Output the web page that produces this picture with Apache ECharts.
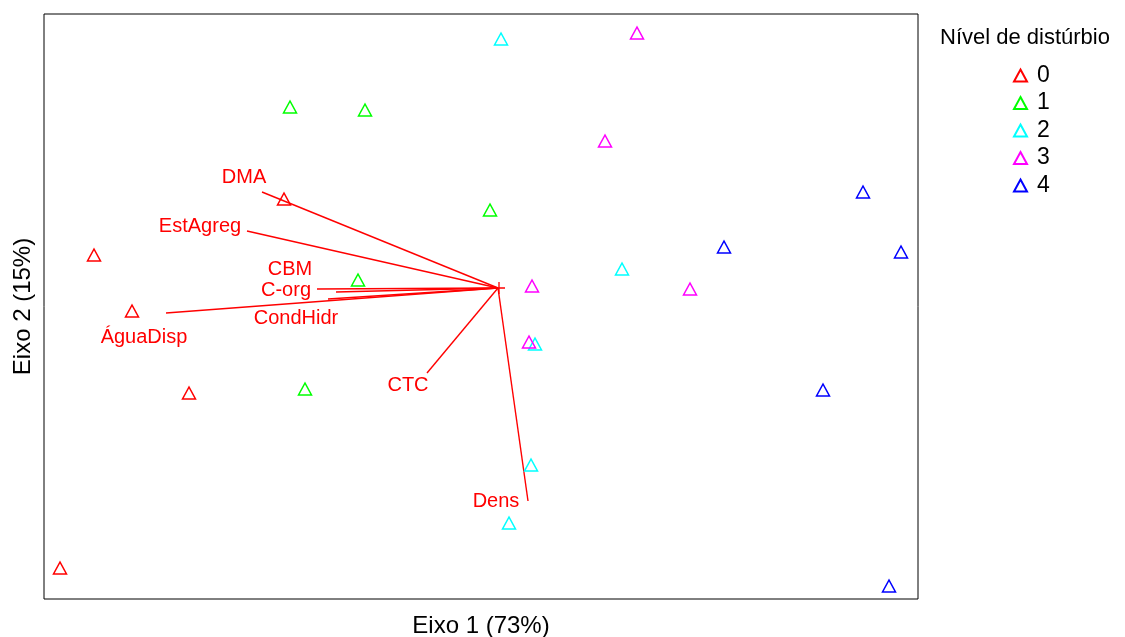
<!DOCTYPE html>
<html>
<head>
<meta charset="utf-8">
<script src="https://cdn.jsdelivr.net/npm/echarts@6/dist/echarts.min.js"></script>
<style>html,body{margin:0;padding:0;background:#fff;}#c{width:1125px;height:637px;}</style>
</head>
<body>
<div id="c"></div>
<script>
// Groups (disturbance level) and site scores [Eixo 1, Eixo 2]
const categories = ['0', '1', '2', '3', '4'];
const scores0 = [[-4.04, 0.33], [-3.66, -0.23], [-3.09, -1.05], [-4.38, -2.80], [-2.14, 0.89]];
const scores1 = [[-2.08, 1.81], [-1.33, 1.78], [-0.08, 0.78], [-1.40, 0.08], [-1.93, -1.01]];
const scores2 = [[0.03, 2.49], [1.24, 0.19], [0.37, -0.56], [0.33, -1.77], [0.11, -2.35]];
const scores3 = [[1.39, 2.55], [1.07, 1.47], [0.34, 0.02], [1.92, -0.01], [0.31, -0.54]];
const scores4 = [[3.65, 0.96], [2.26, 0.41], [4.03, 0.36], [3.25, -1.02], [3.91, -2.98]];
const groupScores = [scores0, scores1, scores2, scores3, scores4];

// Environmental variable vectors (arrow tips) and label anchors
const variables = ['DMA', 'EstAgreg', 'CBM', 'C-org', 'CondHidr', 'ÁguaDisp', 'CTC', 'Dens'];
const arrowX = [-2.36, -2.51, -1.62, -1.81, -1.70, -3.32, -0.71, 0.30];
const arrowY = [0.96, 0.57, -0.04, -0.01, -0.11, -0.25, -0.85, -2.13];
const labelX = [-2.54, -2.98, -2.08, -2.12, -2.02, -3.54, -0.90, -0.02];
const labelY = [1.11, 0.62, 0.19, -0.02, -0.30, -0.49, -0.97, -2.13];

const palette = ['#FF0000', '#00FF00', '#00FFFF', '#FF00FF', '#0000FF'];
const FONT = 'Liberation Sans, Arial, sans-serif';

const chart = echarts.init(document.getElementById('c'), null, {renderer: 'canvas'});

const series = categories.map((c, i) => ({
  name: c,
  type: 'scatter',
  symbol: 'triangle',
  symbolSize: [13, 12],
  data: groupScores[i],
  itemStyle: {color: 'rgba(0,0,0,0)', borderColor: palette[i], borderWidth: 1.5, opacity: 1},
  z: 5
}));

series.push({
  name: 'arrows',
  type: 'lines',
  coordinateSystem: 'cartesian2d',
  polyline: false,
  data: variables.map((v, i) => ({coords: [[0, 0], [arrowX[i], arrowY[i]]]})),
  lineStyle: {color: '#FF0000', width: 1.4, opacity: 1},
  silent: true,
  z: 3
});

series.push({
  name: 'origin',
  type: 'scatter',
  symbol: 'path://M0,6L12,6M6,0L6,12',
  symbolSize: 12,
  data: [[0.01, 0]],
  itemStyle: {color: 'rgba(0,0,0,0)', borderColor: '#FF0000', borderWidth: 1.3, opacity: 1},
  silent: true,
  z: 4
});

series.push({
  name: 'labels',
  type: 'scatter',
  symbolSize: 1,
  data: variables.map((v, i) => ({name: v, value: [labelX[i], labelY[i]]})),
  itemStyle: {color: 'rgba(0,0,0,0)', opacity: 1},
  label: {
    show: true, position: 'inside', formatter: p => p.name,
    color: '#FF0000', fontSize: 20, fontFamily: FONT,
    align: 'center', verticalAlign: 'middle'
  },
  silent: true,
  z: 6
});

chart.setOption({
  animation: false,
  backgroundColor: '#fff',
  title: {
    text: 'Nível de distúrbio',
    left: 935, top: 22,
    textStyle: {fontSize: 22, fontWeight: 'normal', color: '#000', fontFamily: FONT}
  },
  legend: {
    data: categories,
    orient: 'vertical',
    left: 1013, top: 64,
    padding: 0,
    itemWidth: 13, itemHeight: 12,
    itemGap: 4.5,
    textStyle: {fontSize: 23, lineHeight: 22, color: '#000', fontFamily: FONT, padding: [0, 0, 0, 5]},
    selectedMode: false
  },
  grid: {left: 44, top: 14, width: 874, height: 585, outerBoundsMode: 'none', containLabel: false,
         show: true, borderColor: '#000', borderWidth: 1, backgroundColor: '#fff'},
  xAxis: {
    type: 'value', min: -4.54, max: 4.20,
    name: 'Eixo 1 (73%)', nameLocation: 'middle', nameGap: 15,
    nameTextStyle: {fontSize: 24, color: '#000', fontFamily: FONT},
    axisLine: {show: false}, axisTick: {show: false}, axisLabel: {show: false}, splitLine: {show: false}
  },
  yAxis: {
    type: 'value', min: -3.11, max: 2.74,
    name: 'Eixo 2 (15%)', nameLocation: 'middle', nameGap: 9,
    nameTextStyle: {fontSize: 24, color: '#000', fontFamily: FONT},
    axisLine: {show: false}, axisTick: {show: false}, axisLabel: {show: false}, splitLine: {show: false}
  },
  series: series
});
</script>
</body>
</html>
